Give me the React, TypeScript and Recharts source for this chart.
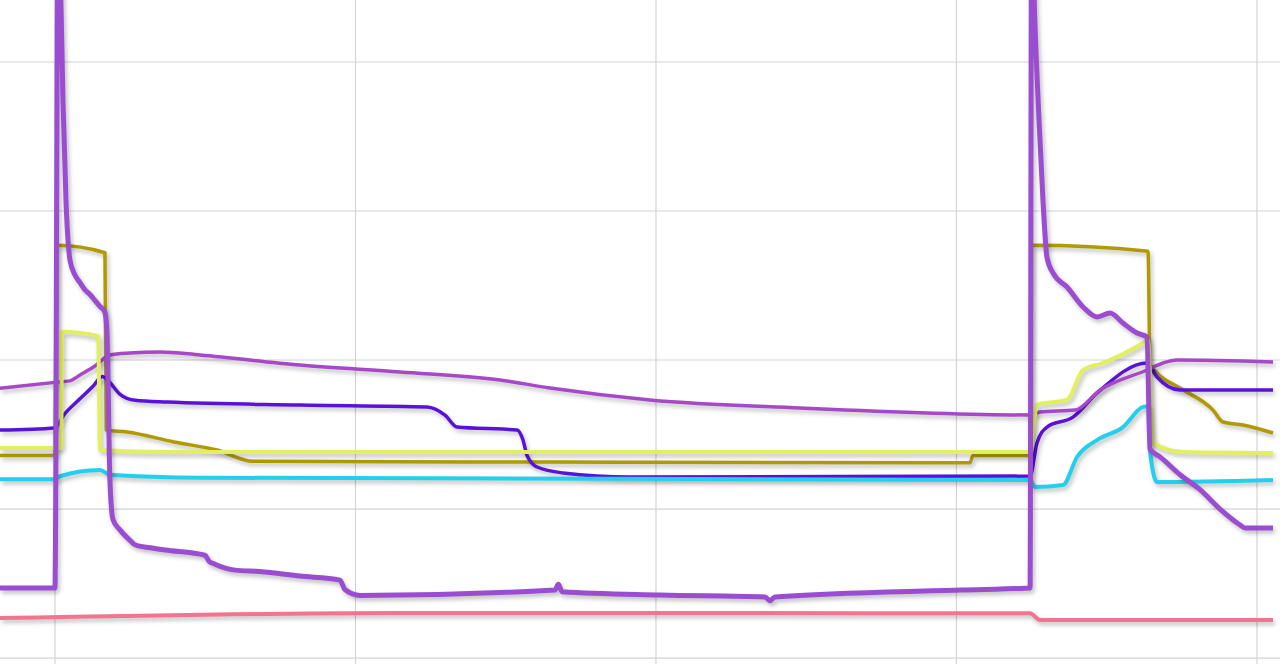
import { Line, LineChart, ReferenceLine, XAxis, YAxis } from 'recharts';

// time in hours, level in arbitrary units
const hourTicks = [0, 24, 48, 72, 96];
const levelTicks = [0, 10, 20, 30, 40];

const pressure: [number, number][] = [
  [-4.4, 4.7], [0, 4.7], [0.25, 50], [0.5, 43], [0.64, 37.4], [0.88, 30.7], [1.2, 26.7],
  [1.6, 25.7], [2.0, 25.2], [2.4, 24.7], [2.8, 24.4], [3.19, 24.0], [3.59, 23.6], [3.99, 23.2],
  [4.15, 21.9], [4.39, 11.9], [4.63, 9.3], [5.19, 8.6], [5.99, 7.9], [6.39, 7.6], [7.59, 7.4],
  [8.79, 7.25], [11.98, 6.9], [12.3, 6.5], [12.78, 6.3], [14.38, 5.9], [16.37, 5.8],
  [19.57, 5.5], [22.76, 5.23], [23.16, 4.6], [24.36, 4.2], [39.94, 4.56], [40.2, 4.95],
  [40.5, 4.45], [48.32, 4.23], [56.71, 4.1], [57.11, 3.85], [57.51, 4.1], [72.28, 4.56],
  [77.88, 4.7], [78.0, 50], [78.25, 43], [78.6, 36], [78.91, 30.7], [79.23, 26.9],
  [79.71, 25.84], [80.83, 24.9], [82.11, 23.56], [83.23, 22.89], [84.27, 23.15],
  [85.3, 22.48], [86.42, 21.81], [87.22, 21.54], [87.46, 14.0], [88.26, 13.5], [89.86, 12.3],
  [91.45, 11.3], [93.05, 10.0], [94.65, 8.93], [95.05, 8.72], [97.28, 8.72],
];

const feed: [number, number][] = [
  [-4.4, 13.6], [0, 13.6], [0.12, 27.7], [3.99, 27.2], [4.1, 15.3], [5.75, 15.17],
  [9.5, 14.5], [12.94, 13.96], [15.81, 13.2], [39.78, 13.15], [73.08, 13.1], [73.32, 13.6],
  [77.88, 13.6], [78.0, 27.7], [87.3, 27.3], [87.46, 19.7], [88.02, 19.13], [90.1, 18.0],
  [92.49, 16.64], [93.29, 15.84], [94.89, 15.64], [97.28, 15.1],
];

const flow: [number, number][] = [
  [-4.4, 14.1], [0, 14.1], [0.5, 14.1], [0.56, 21.9], [3.45, 21.6], [3.6, 13.96],
  [8.79, 13.83], [77.88, 13.83], [78.43, 17.0], [80.83, 17.32], [82.11, 19.33],
  [83.71, 19.8], [86.9, 21.14], [87.3, 21.34], [87.7, 14.43], [90.1, 13.83], [97.28, 13.76],
];

const temp: [number, number][] = [
  [-4.4, 15.3], [0, 15.44], [0.7, 16.3], [2.0, 17.4], [3.0, 18.2], [3.8, 18.9], [4.2, 18.66],
  [5.2, 17.7], [6.4, 17.3], [8.95, 17.18], [19.57, 16.98], [29.71, 16.85], [31.15, 16.3],
  [32.11, 15.5], [36.9, 15.3], [37.38, 14.63], [37.7, 13.6], [38.5, 12.82], [40.58, 12.42],
  [45.93, 12.15], [77.88, 12.21], [78.43, 14.43], [79.23, 15.5], [81.31, 16.17],
  [83.23, 17.79], [87.22, 19.8], [88.02, 18.86], [89.86, 17.99], [97.28, 17.99],
];

const humidity: [number, number][] = [
  [-4.4, 18.1], [0, 18.5], [1.2, 18.6], [2.0, 19.0], [3.19, 19.6], [4.39, 20.34],
  [5.99, 20.47], [8.39, 20.54], [11.58, 20.34], [19.57, 19.66], [27.56, 19.19],
  [35.54, 18.66], [39.54, 18.12], [47.52, 17.32], [59.5, 16.78], [77.88, 16.31],
  [78.67, 16.51], [81.47, 16.64], [83.47, 17.99], [87.22, 19.33], [88.5, 19.8],
  [89.62, 20.0], [97.28, 19.87],
];

const level: [number, number][] = [
  [-4.4, 12.0], [0, 12.0], [0.4, 12.2], [3.6, 12.62], [4.39, 12.3], [11.58, 12.1],
  [77.88, 11.95], [78.27, 11.48], [80.51, 11.61], [81.63, 13.49], [83.23, 14.63],
  [85.3, 15.5], [86.9, 16.85], [87.3, 16.9], [87.46, 13.9], [88.02, 11.81], [97.28, 11.95],
];

const baseline: [number, number][] = [
  [-4.4, 2.68], [27.56, 3.02], [48.32, 3.02], [77.88, 3.0], [78.67, 2.55], [97.28, 2.55],
];

const toPoints = (arr: [number, number][]) => arr.map(([t, v]) => ({ t, v }));

const series = [
  { name: 'baseline', data: baseline, color: '#f27490', width: 4 },
  { name: 'feed', data: feed, color: '#b09a00', width: 3.5 },
  { name: 'temp', data: temp, color: '#5a12da', width: 3.5 },
  { name: 'humidity', data: humidity, color: '#a648c8', width: 3.5 },
  { name: 'flow', data: flow, color: '#e2f060', width: 4 },
  { name: 'level', data: level, color: '#22d0ee', width: 4 },
  { name: 'pressure', data: pressure, color: '#9b4dd2', width: 5 },
];

export default function App() {
  return (
    <div style={{ position: 'fixed', left: 0, top: 0, width: 1280, height: 664, background: '#fff' }}>
      <style>{`.recharts-line-curve { filter: drop-shadow(2px 3px 2px rgba(0,0,0,0.25)); }`}</style>
      <LineChart width={1280} height={664} margin={{ top: 0, right: 0, bottom: 0, left: 0 }}>
        <XAxis type="number" dataKey="t" domain={[-4.39, 97.84]} ticks={hourTicks} hide allowDataOverflow />
        <YAxis type="number" domain={[-0.4, 44.16]} ticks={levelTicks} hide allowDataOverflow />
        {levelTicks.map((v) => (
          <ReferenceLine key={'h' + v} y={v} stroke="#d4d4d4" strokeWidth={1.2} />
        ))}
        {hourTicks.map((t) => (
          <ReferenceLine key={'v' + t} x={t} stroke="#d4d4d4" strokeWidth={1.2} />
        ))}
        {series.map((s) => (
          <Line
            key={s.name}
            data={toPoints(s.data)}
            dataKey="v"
            type="monotoneX"
            stroke={s.color}
            strokeWidth={s.width}
            strokeLinejoin="round"
            dot={false}
            isAnimationActive={false}
          />
        ))}
      </LineChart>
    </div>
  );
}
